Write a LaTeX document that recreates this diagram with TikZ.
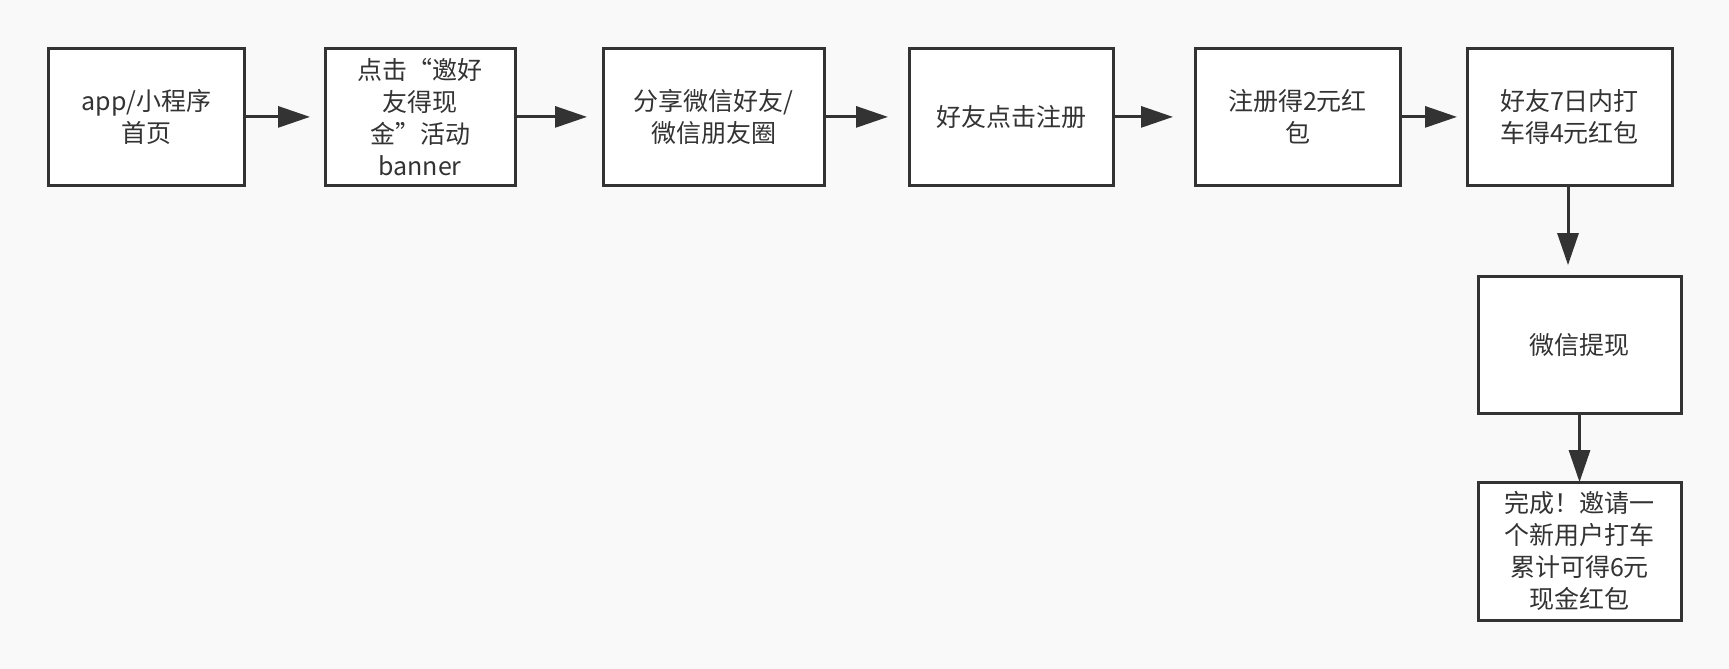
\documentclass[tikz,border=0pt]{standalone}
\usepackage{fontspec}
\setmainfont{Noto Sans CJK SC}
\usetikzlibrary{arrows.meta, positioning}
\definecolor{linegray}{HTML}{333333}
\definecolor{textgray}{HTML}{333333}
\definecolor{bggray}{HTML}{F9F9F9}

\begin{document}
\begin{tikzpicture}[>={Triangle[length=32pt, width=21pt]}, line width=3pt]
  \tikzstyle{flowbox}=[draw=linegray, fill=white, text=textgray, align=center,
                       inner sep=0pt, outer sep=0pt, minimum height=137pt,
                       font=\fontsize{25}{32}\selectfont]
  \tikzstyle{flow}=[->, draw=linegray, shorten >=13pt]

  \fill[bggray] (0,0) rectangle (1729pt,-669pt);
  \useasboundingbox (0,0) rectangle (1729pt,-669pt);

  \node[flowbox, minimum width=196pt] (home)     at (146.7pt,-116.9pt)          {app/小程序\\首页};
  \node[flowbox, minimum width=190pt] (banner)   [right=80.3pt of home]         {点击“邀好\\友得现\\金”活动\\banner};
  \node[flowbox, minimum width=221pt] (share)    [right=88pt of banner]         {分享微信好友/\\微信朋友圈};
  \node[flowbox, minimum width=204pt] (register) [right=85pt of share]          {好友点击注册};
  \node[flowbox, minimum width=205pt] (bonus)    [right=82pt of register]       {注册得2元红\\包};
  \node[flowbox, minimum width=205pt] (ride)     [right=67pt of bonus]          {好友7日内打\\车得4元红包};
  \node[flowbox, minimum width=203pt] (withdraw) [below=90.7pt of ride, xshift=10pt] {微信提现};
  \node[flowbox, minimum width=203pt, minimum height=138pt] (done) [below=69pt of withdraw]
                                                                                {完成！邀请一\\个新用户打车\\累计可得6元\\现金红包};

  \path
        (home)     edge [flow, shorten >=15pt] (banner)
        (banner)   edge [flow, shorten >=16pt] (share)
        (share)    edge [flow, shorten >=21pt] (register)
        (register) edge [flow, shorten >=22pt] (bonus)
        (bonus)    edge [flow, shorten >=10pt] (ride);
  \draw[flow, shorten >=11pt] ([xshift=-1.5pt]ride.south) -- ([xshift=-1.5pt]ride.south |- withdraw.north);
  \path (withdraw) edge [flow, shorten >=0pt] (done);
\end{tikzpicture}
\end{document}
